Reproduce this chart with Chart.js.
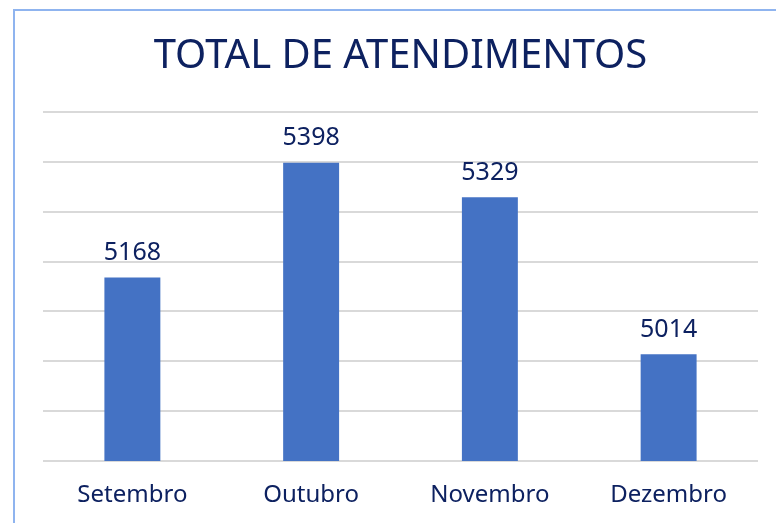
<!DOCTYPE html>
<html><head><meta charset="utf-8">
<script src="https://cdn.jsdelivr.net/npm/chart.js@4"></script>
<style>
html,body{margin:0;padding:0;background:#fff;}
#wrap{position:relative;width:776px;height:523px;overflow:hidden;}
#frame{position:absolute;left:13px;top:9px;width:800px;height:600px;border-left:2px solid #8fb4ef;border-top:2px solid #8fb4ef;}
canvas{position:absolute;left:0;top:0;}
</style></head>
<body>
<div id="wrap"><div id="frame"></div><canvas id="c" width="776" height="523"></canvas></div>
<script>
const categories = ["Setembro","Outubro","Novembro","Dezembro"];
const values = [5168, 5398, 5329, 5014];
const titleText = "TOTAL DE ATENDIMENTOS";
const FONT = "'Noto Sans', sans-serif";
const navy = "#0d2160";

const labelPlugin = {
  id:'vals',
  afterDatasetsDraw(chart){
    const ctx = chart.ctx;
    const meta = chart.getDatasetMeta(0);
    ctx.save();
    ctx.font = "25px " + FONT;
    ctx.fillStyle = navy;
    ctx.textAlign = 'center';
    ctx.textBaseline = 'bottom';
    meta.data.forEach((b,i)=>{
      ctx.fillText(String(values[i]), b.x, b.y - 12);
    });
    ctx.restore();
  }
};

new Chart(document.getElementById('c'), {
  type:'bar',
  data:{labels:categories, datasets:[{data:values, backgroundColor:'#4472c4', barPercentage:0.313, categoryPercentage:1}]},
  options:{
    responsive:false, animation:false,
    layout:{padding:{left:43,right:18,top:33,bottom:0}},
    plugins:{
      legend:{display:false}, tooltip:{enabled:false},
      title:{display:true,text:titleText,color:navy,font:{family:FONT,size:40,weight:'normal'},padding:{top:0,bottom:31}}
    },
    scales:{
      x:{afterFit(s){ s.height = 62; },
         grid:{display:false,drawTicks:false},border:{display:false},ticks:{color:navy,font:{family:FONT,size:24},padding:20}},
      y:{min:4800,max:5500,ticks:{display:false,stepSize:100},border:{display:false},grid:{color:'#d9d9d9',lineWidth:2,drawTicks:false}}
    }
  },
  plugins:[labelPlugin]
});
</script>
</body></html>
